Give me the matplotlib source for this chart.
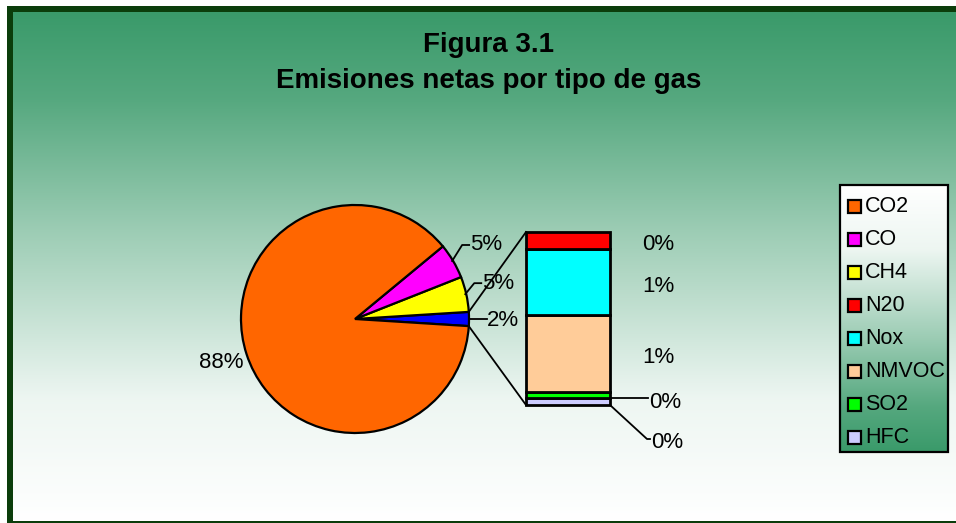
import numpy as np
import matplotlib
matplotlib.use("Agg")
import matplotlib.pyplot as plt
from matplotlib.patches import Rectangle

# ---- data (percent of net emissions) ----
gases = ["CO2", "CO", "CH4", "N20", "Nox", "NMVOC", "SO2", "HFC"]
values = [88.0, 5.0, 5.0, 0.20, 0.76, 0.88, 0.07, 0.08]
colors = ["#FF6600", "#FF00FF", "#FFFF00", "#FF0000", "#00FFFF", "#FFCC99", "#00FF00", "#CCCCFF"]
pie_gases = ["CO2", "CO", "CH4"]
bar_gases = ["N20", "Nox", "NMVOC", "SO2", "HFC"]
other_color = "#0000FF"
title_lines = ["Figura 3.1", "Emisiones netas por tipo de gas"]

W, H = 956, 523
FONT = "Liberation Sans"
plt.rcParams["font.family"] = [FONT, "DejaVu Sans"]
LFS = 16

fig = plt.figure(figsize=(W / 100, H / 100), dpi=100)
ax = fig.add_axes([0, 0, 1, 1])


def Y(y):
    return H - y


val = dict(zip(gases, values))
col = dict(zip(gases, colors))
total = sum(values)
other = sum(val[g] for g in bar_gases)

# ---- background frame + gradient ----
ax.add_patch(Rectangle((7, 0), W, Y(6), facecolor="#0b3d0b", edgecolor="none", zorder=0))
top = np.array([58, 154, 106]) / 255.0
t = np.linspace(0, 1, 400)
f = np.interp(t, [0, 0.17, 0.43, 0.76, 1.0], [0, 0.14, 0.5, 0.91, 1.0])
grad = top[None, :] + f[:, None] * (1 - top[None, :])
ax.imshow(grad[:, None, :], extent=(13, W + 5, Y(521), Y(12)), aspect="auto",
          interpolation="bilinear", zorder=1)

# ---- title ----
ax.text(489, Y(45), title_lines[0], ha="center", va="center", fontsize=20,
        fontweight="bold", zorder=5)
ax.text(489, Y(81), title_lines[1], ha="center", va="center", fontsize=20,
        fontweight="bold", zorder=5)

# ---- pie ----
cx, cy, R = 355, Y(319), 114
pie_vals = [other, val["CH4"], val["CO"], val["CO2"]]
pie_cols = [other_color, col["CH4"], col["CO"], col["CO2"]]
start = -360 * other / total / 2
wedges, _ = ax.pie(pie_vals, colors=pie_cols, startangle=start, counterclock=True,
                   center=(cx, cy), radius=R,
                   wedgeprops=dict(edgecolor="black", linewidth=1.6, zorder=3))

angs = np.cumsum([0] + pie_vals) / total * 360 + start
mids = (angs[:-1] + angs[1:]) / 2
pcts = [f"{round(v / total * 100):d}%" for v in pie_vals]


def edge(a, r=R):
    return cx + r * np.cos(np.radians(a)), cy + r * np.sin(np.radians(a))


# other slice label: horizontal leader
ex, ey = edge(mids[0])
ax.plot([ex, ex + 18], [ey, ey], color="black", lw=1.3, zorder=4)
ax.text(ex + 18, ey - 2, pcts[0], ha="left", va="center", fontsize=LFS, zorder=5)
# CH4 and CO labels: elbow leaders
for i, (dx, dy, hx) in zip([1, 2], [(9, 11, 7), (10, 16, 7)]):
    ex, ey = edge(mids[i])
    ex -= 1
    ax.plot([ex, ex + dx, ex + dx + hx], [ey, ey + dy, ey + dy], color="black", lw=1.3, zorder=4)
    ax.text(ex + dx + hx + 1, ey + dy, pcts[i], ha="left", va="center", fontsize=LFS, zorder=5)
# CO2 label
lx, ly = edge(mids[3], R * 1.18)
ax.text(lx - 6, ly - 2, pcts[3], ha="center", va="center", fontsize=LFS, zorder=5)

# ---- stacked bar of the "other" slice ----
bar_x, bar_w, bar_h, bar_bottom = 568, 84, 173, Y(405)
scale = bar_h / other
bottom = bar_bottom
seg = {}
for g in reversed(bar_gases):
    h = val[g] * scale
    ax.bar(bar_x, h, bottom=bottom, width=bar_w, color=col[g], edgecolor="black",
           linewidth=2, zorder=3)
    seg[g] = (bottom, bottom + h)
    bottom += h

# connector lines
x0 = bar_x - bar_w / 2
x1 = bar_x + bar_w / 2
for a, yb in [(angs[1], bar_bottom + bar_h), (angs[0], bar_bottom)]:
    ex, ey = edge(a)
    ax.plot([ex, x0], [ey, yb], color="black", lw=1.3, zorder=2)

# bar labels
for g in ["N20", "Nox", "NMVOC"]:
    b, tp = seg[g]
    ax.text(x1 + 48, (b + tp) / 2 - 4, f"{round(val[g] / total * 100):d}%", ha="center",
            va="center", fontsize=LFS, zorder=5)
b, tp = seg["SO2"]
ym = (b + tp) / 2 - 3
ax.plot([x1, x1 + 38], [ym, ym], color="black", lw=1.3, zorder=4)
ax.text(x1 + 39, ym - 4, f"{round(val['SO2'] / total * 100):d}%", ha="left", va="center",
        fontsize=LFS, zorder=5)
b, tp = seg["HFC"]
ax.plot([x1, x1 + 37, x1 + 40], [b, b - 34, b - 34], color="black", lw=1.3, zorder=4)
ax.text(x1 + 41, b - 37, f"{round(val['HFC'] / total * 100):d}%", ha="left", va="center",
        fontsize=LFS, zorder=5)

# ---- legend ----
lx0, lx1, ly0, ly1 = 840, 948, Y(452), Y(185)
lt = np.linspace(0, 1, 300)
lf = np.interp(lt, [0, 0.17, 0.43, 0.76, 1.0], [0, 0.14, 0.5, 0.91, 1.0])[::-1]
lgrad = top[None, :] + lf[:, None] * (1 - top[None, :])
ax.imshow(lgrad[:, None, :], extent=(lx0, lx1, ly0, ly1), aspect="auto",
          interpolation="bilinear", zorder=5)
ax.add_patch(Rectangle((lx0, ly0), lx1 - lx0, ly1 - ly0, facecolor="none",
                       edgecolor="black", lw=1.6, zorder=6))
row0, step = 206, 33.1
for i, g in enumerate(gases):
    yy = Y(row0 + i * step)
    ax.add_patch(Rectangle((848, yy - 6.5), 13, 13, facecolor=col[g], edgecolor="black",
                           lw=1.6, zorder=7))
    ax.text(865, yy, g, ha="left", va="center", fontsize=15.5, zorder=7)

ax.set_xlim(0, W)
ax.set_ylim(0, H)
ax.set_aspect("auto")
ax.axis("off")
fig.savefig("out.png", dpi=100, facecolor="white")
